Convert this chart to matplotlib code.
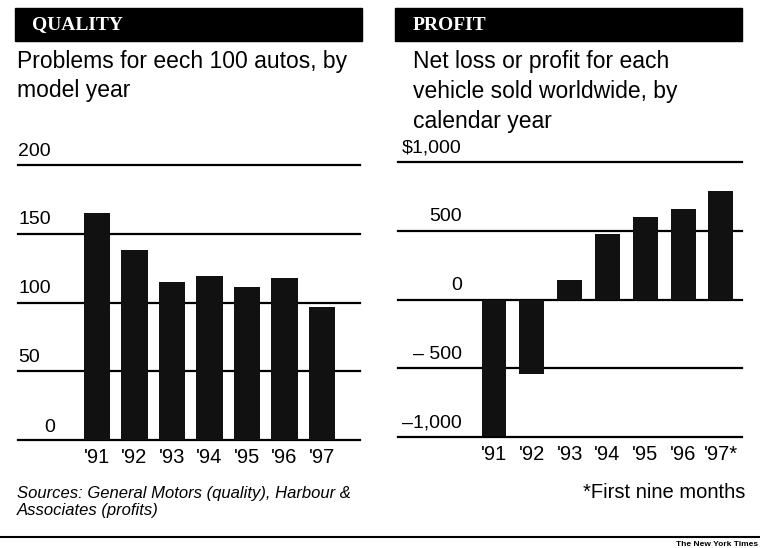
import matplotlib.pyplot as plt
import numpy as np

plt.rcParams['font.family'] = ['Liberation Sans', 'DejaVu Sans']

years = ["'91", "'92", "'93", "'94", "'95", "'96", "'97"]
profit_years = ["'91", "'92", "'93", "'94", "'95", "'96", "'97*"]
quality = [165, 138, 115, 119, 111, 118, 97]
profit = [-990, -540, 145, 473, 600, 660, 790]
quality_ticks = [0, 50, 100, 150, 200]
quality_tick_labels = ["0", "50", "100", "150", "200"]
profit_ticks = [-1000, -500, 0, 500, 1000]
profit_tick_labels = ["\u20131,000", "\u2013 500", "0", "500", "$1,000"]

W, H = 760, 548
fig = plt.figure(figsize=(W / 100, H / 100), dpi=100)


def px_axes(x0, x1, ytop, ybot):
    return fig.add_axes([x0 / W, (H - ybot) / H, (x1 - x0) / W, (ybot - ytop) / H])


def strip(ax):
    for s in ax.spines.values():
        s.set_visible(False)
    ax.set_xticks([])
    ax.set_yticks([])
    ax.patch.set_alpha(0)


# ---- left: quality ----
ax1 = px_axes(18, 360, 165, 440)
strip(ax1)
x = np.arange(len(years))
ax1.set_xlim(-2.1, 7.01)
ax1.set_ylim(0, 200)
for t in quality_ticks:
    ax1.axhline(t, color='black', lw=1.6, zorder=1, clip_on=False)
ax1.bar(x, quality, width=0.7, color='#111111', zorder=2)
for t, lab in zip(quality_ticks, quality_tick_labels):
    if t == 0:
        ax1.text(0.11, t + 3, lab, transform=ax1.get_yaxis_transform(), ha='right',
                 va='bottom', fontsize=14)
    else:
        ax1.text(0.0, t + 4, lab, transform=ax1.get_yaxis_transform(), ha='left',
                 va='bottom', fontsize=14)
for xi, lab in zip(x, years):
    ax1.text(xi, -6, lab, ha='center', va='top', fontsize=14.5)

# ---- right: profit ----
ax2 = px_axes(398, 742, 162, 437)
strip(ax2)
x2 = np.arange(len(profit_years))
ax2.set_xlim(-2.54, 6.56)
ax2.set_ylim(-1000, 1000)
for t in profit_ticks:
    ax2.axhline(t, color='black', lw=1.6, zorder=1, clip_on=False)
ax2.bar(x2, profit, width=0.66, color='#111111', zorder=2)
for t, lab in zip(profit_ticks, profit_tick_labels):
    ax2.text(0.186, t + 40, lab, transform=ax2.get_yaxis_transform(), ha='right',
             va='bottom', fontsize=14)
for xi, lab in zip(x2, profit_years):
    ax2.text(xi, -1060, lab, ha='center', va='top', fontsize=14.5)

# ---- headers, subtitles, notes ----
fig.patches.append(plt.Rectangle((15 / W, 1 - 41 / H), 347 / W, 33 / H,
                                 transform=fig.transFigure, color='black'))
fig.patches.append(plt.Rectangle((395 / W, 1 - 41 / H), 347 / W, 33 / H,
                                 transform=fig.transFigure, color='black'))
fig.text(32 / W, 1 - 25 / H, "QUALITY", color='white', fontsize=14,
         fontweight='bold', family='Liberation Serif', va='center')
fig.text(413 / W, 1 - 25 / H, "PROFIT", color='white', fontsize=14,
         fontweight='bold', family='Liberation Serif', va='center')

fig.text(17 / W, 1 - 50 / H, "Problems for eech 100 autos, by\nmodel year",
         fontsize=16.5, va='top', linespacing=1.35)
fig.text(413 / W, 1 - 50 / H,
         "Net loss or profit for each\nvehicle sold worldwide, by\ncalendar year",
         fontsize=16.5, va='top', linespacing=1.4)

fig.text(17 / W, 1 - 502 / H, "Sources: General Motors (quality), Harbour &\nAssociates (profits)",
         fontsize=12, style='italic', va='center', linespacing=1.15)
fig.text(745 / W, 1 - 492 / H, "*First nine months", fontsize=14.5, ha='right', va='center')

fig.lines.append(plt.Line2D([0, 1], [1 - 537 / H, 1 - 537 / H], transform=fig.transFigure,
                            color='black', lw=1.5))
fig.text(758 / W, 1 - 544 / H, "The New York Times", fontsize=6, fontweight='bold',
         va='center', ha='right')

fig.savefig("out.png", dpi=100, facecolor='white')
